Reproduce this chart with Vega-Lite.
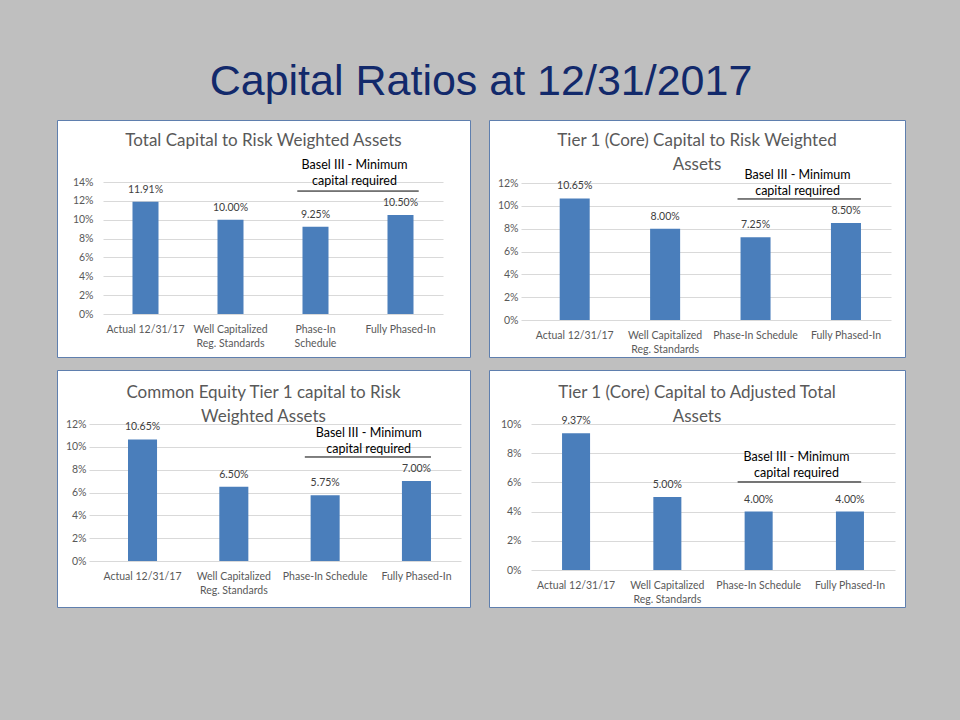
{
  "$schema": "https://vega.github.io/schema/vega-lite/v6.json",
  "background": "#bfbfbf",
  "padding": {"left": 56, "top": 60, "right": 58, "bottom": 113},
  "title": {"text": "Capital Ratios at 12/31/2017", "font": "Liberation Sans", "fontSize": 43, "fontWeight": "normal", "color": "#12296b", "offset": -18, "baseline": "alphabetic", "anchor": "middle"},
  "spacing": 11,
  "vconcat": [
    {
      "spacing": 17,
      "hconcat": [
        {
          "width": 413, "height": 237,
          "title": {"text": "Total Capital to Risk Weighted Assets", "offset": -30, "baseline": "top"},
          "data": {"values": [
            {"category": "Actual 12/31/17", "ratio": 0.1191},
            {"category": "Well Capitalized Reg. Standards", "ratio": 0.10},
            {"category": "Phase-In Schedule", "ratio": 0.0925},
            {"category": "Fully Phased-In", "ratio": 0.105}
          ]},
          "layer": [
            {"mark": {"type": "bar", "color": "#4a7ebb"},
             "encoding": {
               "x": {"field": "category", "type": "nominal", "sort": null,
                 "scale": {"range": [46, 386], "paddingInner": 0.694, "paddingOuter": 0.347, "align": 0.5},
                 "axis": {"offset": -43, "labelExpr": "datum.label == 'Well Capitalized Reg. Standards' ? ['Well Capitalized', 'Reg. Standards'] : datum.label == 'Phase-In Schedule' ? ['Phase-In', 'Schedule'] : datum.label"}},
               "y": {"field": "ratio", "type": "quantitative",
                 "scale": {"domain": [0, 0.14], "range": [194, 62], "nice": false, "zero": true},
                 "axis": {"format": ".0%", "values": [0, 0.02, 0.04, 0.06, 0.08, 0.10, 0.12, 0.14], "offset": -46, "labelPadding": 10}}}},
            {"mark": {"type": "text", "dy": -9, "baseline": "alphabetic", "color": "#404040", "fontSize": 10.5},
             "encoding": {
               "x": {"field": "category", "type": "nominal", "sort": null},
               "y": {"field": "ratio", "type": "quantitative", "axis": {"format": ".0%", "values": [0, 0.02, 0.04, 0.06, 0.08, 0.10, 0.12, 0.14], "offset": -46, "labelPadding": 10}},
               "text": {"field": "ratio", "format": ".2%"}}},
            {"data": {"values": [{}]},
             "mark": {"type": "rule", "color": "black", "strokeWidth": 1},
             "encoding": {"x": {"datum": "Phase-In Schedule", "type": "nominal", "bandPosition": -0.2}, "x2": {"datum": "Fully Phased-In", "bandPosition": 1.2},
               "y": {"datum": 0.1304, "type": "quantitative", "axis": {"format": ".0%", "values": [0, 0.02, 0.04, 0.06, 0.08, 0.10, 0.12, 0.14], "offset": -46, "labelPadding": 10}}}},
            {"data": {"values": [{}]},
             "mark": {"type": "text", "text": ["Basel III - Minimum", "capital required"], "baseline": "alphabetic", "align": "center", "fontSize": 12.5, "lineHeight": 16, "color": "black"},
             "encoding": {"x": {"datum": "Phase-In Schedule", "type": "nominal", "bandPosition": 2.0},
               "y": {"datum": 0.1543, "type": "quantitative", "axis": {"format": ".0%", "values": [0, 0.02, 0.04, 0.06, 0.08, 0.10, 0.12, 0.14], "offset": -46, "labelPadding": 10}}}}
          ]
        },
        {
          "width": 416, "height": 237,
          "title": {"text": ["Tier 1 (Core) Capital to Risk Weighted", "Assets"], "offset": -54, "baseline": "top"},
          "data": {"values": [
            {"category": "Actual 12/31/17", "ratio": 0.1065},
            {"category": "Well Capitalized Reg. Standards", "ratio": 0.08},
            {"category": "Phase-In Schedule", "ratio": 0.0725},
            {"category": "Fully Phased-In", "ratio": 0.085}
          ]},
          "layer": [
            {"mark": {"type": "bar", "color": "#4a7ebb"},
             "encoding": {
               "x": {"field": "category", "type": "nominal", "sort": null,
                 "scale": {"range": [32, 402], "paddingInner": 0.668, "paddingOuter": 0.38, "align": 0.563},
                 "axis": {"offset": -37, "labelExpr": "datum.label == 'Well Capitalized Reg. Standards' ? ['Well Capitalized', 'Reg. Standards'] : datum.label"}},
               "y": {"field": "ratio", "type": "quantitative",
                 "scale": {"domain": [0, 0.12], "range": [200, 63], "nice": false, "zero": true},
                 "axis": {"format": ".0%", "values": [0, 0.02, 0.04, 0.06, 0.08, 0.10, 0.12], "offset": -32, "labelPadding": 3}}}},
            {"mark": {"type": "text", "dy": -9, "baseline": "alphabetic", "color": "#404040", "fontSize": 10.5},
             "encoding": {
               "x": {"field": "category", "type": "nominal", "sort": null},
               "y": {"field": "ratio", "type": "quantitative", "axis": {"format": ".0%", "values": [0, 0.02, 0.04, 0.06, 0.08, 0.10, 0.12], "offset": -32, "labelPadding": 3}},
               "text": {"field": "ratio", "format": ".2%"}}},
            {"data": {"values": [{}]},
             "mark": {"type": "rule", "color": "black", "strokeWidth": 1},
             "encoding": {"x": {"datum": "Phase-In Schedule", "type": "nominal", "bandPosition": -0.1}, "x2": {"datum": "Fully Phased-In", "bandPosition": 1.0},
               "y": {"datum": 0.106, "type": "quantitative", "axis": {"format": ".0%", "values": [0, 0.02, 0.04, 0.06, 0.08, 0.10, 0.12], "offset": -32, "labelPadding": 3}}}},
            {"data": {"values": [{}]},
             "mark": {"type": "text", "text": ["Basel III - Minimum", "capital required"], "baseline": "alphabetic", "align": "center", "fontSize": 12.5, "lineHeight": 16, "color": "black"},
             "encoding": {"x": {"datum": "Phase-In Schedule", "type": "nominal", "bandPosition": 1.9},
               "y": {"datum": 0.1239, "type": "quantitative", "axis": {"format": ".0%", "values": [0, 0.02, 0.04, 0.06, 0.08, 0.10, 0.12], "offset": -32, "labelPadding": 3}}}}
          ]
        }
      ]
    },
    {
      "spacing": 17,
      "hconcat": [
        {
          "width": 413, "height": 237,
          "title": {"text": ["Common Equity Tier 1 capital to Risk", "Weighted Assets"], "offset": -56, "baseline": "top"},
          "data": {"values": [
            {"category": "Actual 12/31/17", "ratio": 0.1065},
            {"category": "Well Capitalized Reg. Standards", "ratio": 0.065},
            {"category": "Phase-In Schedule", "ratio": 0.0575},
            {"category": "Fully Phased-In", "ratio": 0.07}
          ]},
          "layer": [
            {"mark": {"type": "bar", "color": "#4a7ebb"},
             "encoding": {
               "x": {"field": "category", "type": "nominal", "sort": null,
                 "scale": {"range": [32, 404], "paddingInner": 0.682, "paddingOuter": 0.378, "align": 0.565},
                 "axis": {"offset": -46, "labelExpr": "datum.label == 'Well Capitalized Reg. Standards' ? ['Well Capitalized', 'Reg. Standards'] : datum.label"}},
               "y": {"field": "ratio", "type": "quantitative",
                 "scale": {"domain": [0, 0.12], "range": [191, 54], "nice": false, "zero": true},
                 "axis": {"format": ".0%", "values": [0, 0.02, 0.04, 0.06, 0.08, 0.10, 0.12], "offset": -32, "labelPadding": 3}}}},
            {"mark": {"type": "text", "dy": -9, "baseline": "alphabetic", "color": "#404040", "fontSize": 10.5},
             "encoding": {
               "x": {"field": "category", "type": "nominal", "sort": null},
               "y": {"field": "ratio", "type": "quantitative", "axis": {"format": ".0%", "values": [0, 0.02, 0.04, 0.06, 0.08, 0.10, 0.12], "offset": -32, "labelPadding": 3}},
               "text": {"field": "ratio", "format": ".2%"}}},
            {"data": {"values": [{}]},
             "mark": {"type": "rule", "color": "black", "strokeWidth": 1},
             "encoding": {"x": {"datum": "Phase-In Schedule", "type": "nominal", "bandPosition": -0.2}, "x2": {"datum": "Fully Phased-In", "bandPosition": 1.0},
               "y": {"datum": 0.0911, "type": "quantitative", "axis": {"format": ".0%", "values": [0, 0.02, 0.04, 0.06, 0.08, 0.10, 0.12], "offset": -32, "labelPadding": 3}}}},
            {"data": {"values": [{}]},
             "mark": {"type": "text", "text": ["Basel III - Minimum", "capital required"], "baseline": "alphabetic", "align": "center", "fontSize": 12.5, "lineHeight": 16, "color": "black"},
             "encoding": {"x": {"datum": "Phase-In Schedule", "type": "nominal", "bandPosition": 2.0},
               "y": {"datum": 0.1086, "type": "quantitative", "axis": {"format": ".0%", "values": [0, 0.02, 0.04, 0.06, 0.08, 0.10, 0.12], "offset": -32, "labelPadding": 3}}}}
          ]
        },
        {
          "width": 416, "height": 237,
          "title": {"text": ["Tier 1 (Core) Capital to Adjusted Total", "Assets"], "offset": -56, "baseline": "top"},
          "data": {"values": [
            {"category": "Actual 12/31/17", "ratio": 0.0937},
            {"category": "Well Capitalized Reg. Standards", "ratio": 0.05},
            {"category": "Phase-In Schedule", "ratio": 0.04},
            {"category": "Fully Phased-In", "ratio": 0.04}
          ]},
          "layer": [
            {"mark": {"type": "bar", "color": "#4a7ebb"},
             "encoding": {
               "x": {"field": "category", "type": "nominal", "sort": null,
                 "scale": {"range": [42, 406], "paddingInner": 0.693, "paddingOuter": 0.34, "align": 0.5},
                 "axis": {"offset": -37, "labelExpr": "datum.label == 'Well Capitalized Reg. Standards' ? ['Well Capitalized', 'Reg. Standards'] : datum.label"}},
               "y": {"field": "ratio", "type": "quantitative",
                 "scale": {"domain": [0, 0.10], "range": [200, 54], "nice": false, "zero": true},
                 "axis": {"format": ".0%", "values": [0, 0.02, 0.04, 0.06, 0.08, 0.10], "offset": -42, "labelPadding": 10}}}},
            {"mark": {"type": "text", "dy": -9, "baseline": "alphabetic", "color": "#404040", "fontSize": 10.5},
             "encoding": {
               "x": {"field": "category", "type": "nominal", "sort": null},
               "y": {"field": "ratio", "type": "quantitative", "axis": {"format": ".0%", "values": [0, 0.02, 0.04, 0.06, 0.08, 0.10], "offset": -42, "labelPadding": 10}},
               "text": {"field": "ratio", "format": ".2%"}}},
            {"data": {"values": [{}]},
             "mark": {"type": "rule", "color": "black", "strokeWidth": 1},
             "encoding": {"x": {"datum": "Phase-In Schedule", "type": "nominal", "bandPosition": -0.25}, "x2": {"datum": "Fully Phased-In", "bandPosition": 0.9},
               "y": {"datum": 0.0603, "type": "quantitative", "axis": {"format": ".0%", "values": [0, 0.02, 0.04, 0.06, 0.08, 0.10], "offset": -42, "labelPadding": 10}}}},
            {"data": {"values": [{}]},
             "mark": {"type": "text", "text": ["Basel III - Minimum", "capital required"], "baseline": "alphabetic", "align": "center", "fontSize": 12.5, "lineHeight": 16, "color": "black"},
             "encoding": {"x": {"datum": "Phase-In Schedule", "type": "nominal", "bandPosition": 1.85},
               "y": {"datum": 0.0747, "type": "quantitative", "axis": {"format": ".0%", "values": [0, 0.02, 0.04, 0.06, 0.08, 0.10], "offset": -42, "labelPadding": 10}}}}
          ]
        }
      ]
    }
  ],
  "config": {
    "font": "Lato",
    "view": {"fill": "white", "stroke": "#5f7fae", "strokeWidth": 1},
    "title": {"font": "Lato", "fontSize": 17, "fontWeight": "normal", "color": "#595959", "anchor": "middle", "lineHeight": 24},
    "axis": {"domain": false, "ticks": false, "tickSize": 0, "title": null, "labelFont": "Lato", "labelFontSize": 10.5, "labelColor": "#595959", "gridColor": "#d9d9d9", "gridWidth": 1},
    "axisX": {"grid": false, "labelAngle": 0, "labelBaseline": "top", "labelPadding": 10, "labelLineHeight": 14},
    "axisY": {"grid": true}
  }
}
